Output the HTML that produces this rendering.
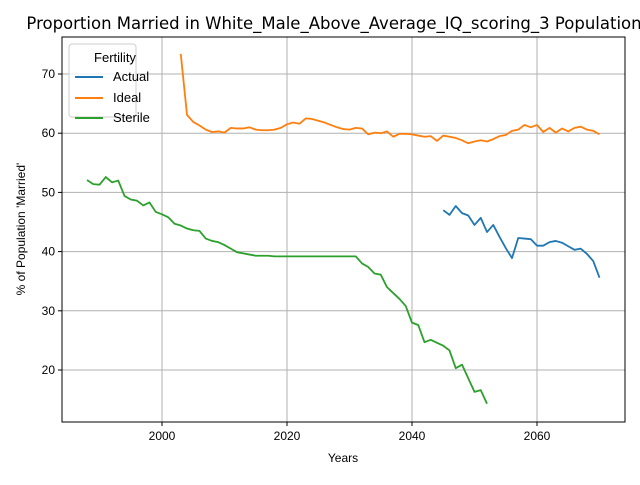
<!DOCTYPE html>
<html><head><meta charset="utf-8"><style>
body{margin:0;background:#fff}
svg{font-family:"Liberation Sans","DejaVu Sans",sans-serif}
</style></head><body>
<svg id="chart" width="640" height="480" viewBox="0 0 640 480">
<rect width="640" height="480" fill="#fff"/>
<text x="334" y="29" font-size="16.5" text-anchor="middle" font-family="DejaVu Sans, sans-serif">Proportion Married in White_Male_Above_Average_IQ_scoring_3 Population</text>
<g id="grid"></g>
<g id="series"></g>
<rect x="62" y="37" width="563" height="385" fill="none" stroke="#000" stroke-width="1"/>
<g id="axes"></g>
<text x="343" y="462" font-size="12" text-anchor="middle">Years</text>
<text transform="translate(25,229) rotate(-90)" font-size="12" text-anchor="middle">% of Population 'Married'</text>
<g>
<rect x="69" y="44" width="67" height="73" rx="3" fill="#fff" fill-opacity="0.8" stroke="#ccc"/>
<text x="115" y="62" font-size="13" text-anchor="middle">Fertility</text>
<g><line x1="75" y1="77" x2="103" y2="77" stroke="#1f77b4" stroke-width="2"/><text x="113" y="81" font-size="13">Actual</text></g>
<g><line x1="75" y1="98" x2="103" y2="98" stroke="#ff7f0e" stroke-width="2"/><text x="113" y="102" font-size="13">Ideal</text></g>
<g><line x1="75" y1="118" x2="103" y2="118" stroke="#2ca02c" stroke-width="2"/><text x="113" y="122" font-size="13">Sterile</text></g>
</g>
</svg>
<script>
const xTicks=[2000,2020,2040,2060];
const yTicks=[20,30,40,50,60,70];
const actualStart=2045;
const actualValues=[47.0,46.2,47.7,46.5,46.1,44.5,45.7,43.3,44.5,42.5,40.6,38.9,42.3,42.2,42.1,41.0,41.0,41.6,41.8,41.5,40.9,40.3,40.5,39.6,38.4,35.6];
const idealStart=2003;
const idealValues=[73.4,63.1,61.9,61.3,60.6,60.2,60.3,60.1,60.9,60.8,60.8,61.0,60.6,60.5,60.5,60.6,60.9,61.5,61.8,61.6,62.5,62.4,62.1,61.8,61.4,61.0,60.7,60.6,60.9,60.8,59.8,60.1,60.0,60.3,59.4,59.9,59.9,59.8,59.6,59.4,59.5,58.7,59.6,59.4,59.2,58.8,58.3,58.6,58.8,58.6,59.0,59.5,59.7,60.4,60.6,61.4,61.0,61.4,60.2,60.9,60.1,60.8,60.3,60.9,61.1,60.6,60.4,59.8];
const sterileStart=1988;
const sterileValues=[52.1,51.4,51.3,52.6,51.7,52.0,49.4,48.8,48.6,47.8,48.3,46.7,46.3,45.8,44.7,44.4,43.9,43.6,43.5,42.2,41.8,41.6,41.1,40.5,39.9,39.7,39.5,39.3,39.3,39.3,39.2,39.2,39.2,39.2,39.2,39.2,39.2,39.2,39.2,39.2,39.2,39.2,39.2,39.2,38.0,37.4,36.3,36.1,34.0,33.0,32.0,30.8,28.0,27.6,24.7,25.1,24.6,24.1,23.3,20.3,20.9,18.6,16.3,16.6,14.3];
const NS="http://www.w3.org/2000/svg";
const X=y=>162+(y-2000)*6.25;
const Y=v=>370-(v-20)*5.92;
const grid=document.getElementById('grid'),axes=document.getElementById('axes'),ser=document.getElementById('series');
function mk(tag,attrs,parent){const e=document.createElementNS(NS,tag);for(const k in attrs)e.setAttribute(k,attrs[k]);parent.appendChild(e);return e;}
xTicks.forEach(t=>{
const g=mk('line',{x1:X(t),x2:X(t),y1:37,y2:422,stroke:'#b0b0b0','stroke-width':1},grid);


mk('line',{x1:X(t),x2:X(t),y1:422,y2:426,stroke:'#000'},axes);
const tx=mk('text',{x:X(t),y:440,'font-size':12,'text-anchor':'middle'},axes);tx.textContent=t;


});
yTicks.forEach(t=>{
const g=mk('line',{x1:62,x2:625,y1:Y(t),y2:Y(t),stroke:'#b0b0b0','stroke-width':1},grid);


mk('line',{x1:58,x2:62,y1:Y(t),y2:Y(t),stroke:'#000'},axes);
const tx=mk('text',{x:55,y:Y(t)+4,'font-size':12,'text-anchor':'end'},axes);tx.textContent=t;


});
function line(start,vals,color,name){
const pts=vals.map((v,i)=>X(start+i).toFixed(2)+','+Y(v).toFixed(2)).join(' ');
const p=mk('polyline',{points:pts,fill:'none',stroke:color,'stroke-width':1.8,'stroke-linejoin':'round'},ser);


}
line(actualStart,actualValues,'#1f77b4','actual-line');
line(idealStart,idealValues,'#ff7f0e','ideal-line');
line(sterileStart,sterileValues,'#2ca02c','sterile-line');
</script>
</body></html>
